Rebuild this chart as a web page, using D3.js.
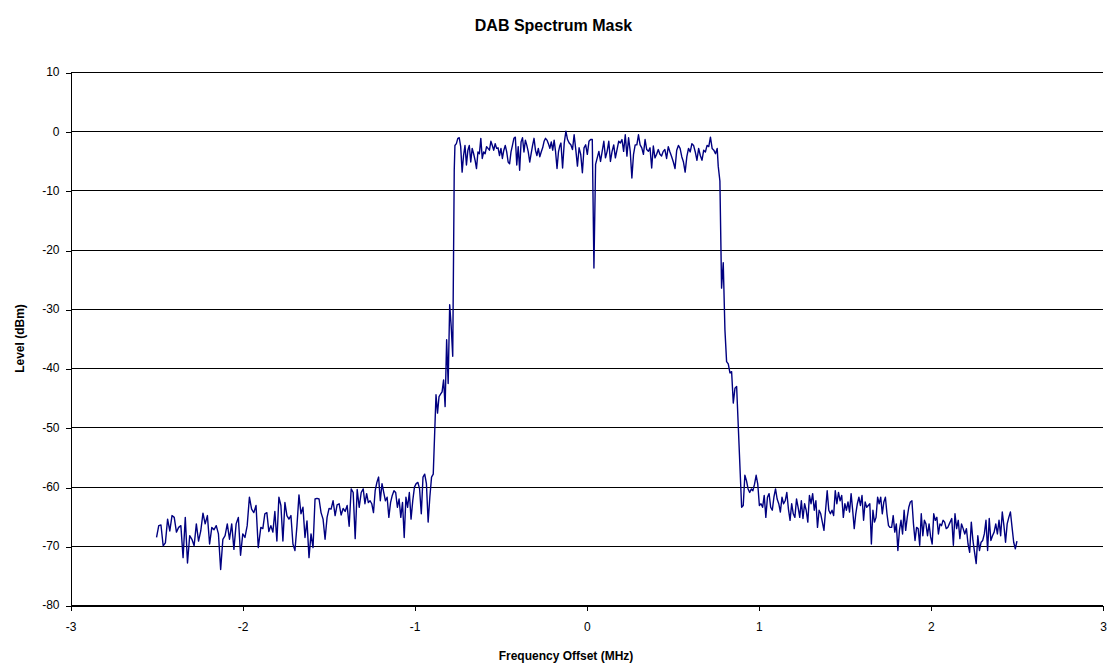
<!DOCTYPE html>
<html>
<head>
<meta charset="utf-8">
<script src="https://cdn.jsdelivr.net/npm/d3@7"></script>
<style>
  body { margin: 0; background: #fff; }
  svg text { font-family: Arial, "Liberation Sans", sans-serif; }
</style>
</head>
<body>
<svg id="chart" width="1107" height="663"></svg>
<script>
// ---- Axis ticks ----
const xTicks = [-3, -2, -1, 0, 1, 2, 3];
const yTicks = [10, 0, -10, -20, -30, -40, -50, -60, -70, -80];

// ---- Measured trace, level in dBm, in sweep order ----
// Each block of levels is spread evenly over its frequency span (MHz).
const spanFloorLeftA = [-2.5, -1.909];
const floorLeftA = [-68.6, -66.6, -66.5, -70.0, -69.5, -65.5, -67.5, -64.9, -65.2, -67.7,
  -66.9, -66.6, -72.0, -65.2, -72.9, -68.3, -68.9, -70.0, -66.3, -69.2, -67.5, -64.5,
  -66.3, -64.9, -69.7, -66.9, -67.3, -66.6, -68.0, -74.0, -68.9, -68.3, -66.3, -68.9,
  -66.3, -70.6, -66.3, -65.2, -71.6, -68.0, -68.6, -66.6, -61.8, -63.8, -64.4, -63.2, -70.3];

const spanFloorLeftB = [-1.894, -1.299];
const floorLeftB = [-66.9, -67.1, -64.6, -64.4, -67.6, -66.6, -67.7, -64.2, -69.2, -61.8,
  -63.2, -69.2, -62.7, -64.9, -65.5, -64.9, -69.7, -70.8, -66.6, -61.4, -64.6, -63.5,
  -68.6, -65.8, -72.0, -68.0, -70.3, -62.1, -62.0, -62.1, -64.4, -65.5, -68.9, -65.2,
  -63.7, -63.8, -62.4, -64.9, -63.1, -62.9, -64.8, -63.7, -64.2, -63.2, -66.7, -60.4,
  -61.0, -68.8, -60.5, -63.5, -61.0, -60.4];

const spanFloorLeftC = [-1.289, -0.892];
const floorLeftC = [-62.9, -61.2, -62.7, -62.4, -62.9, -64.4, -60.7, -59.3, -58.4, -62.4,
  -59.5, -61.0, -62.4, -61.8, -65.2, -62.7, -61.5, -60.7, -61.0, -63.5, -62.1, -65.2,
  -62.7, -68.6, -61.8, -63.5, -61.0, -65.5, -62.4, -60.1, -59.5, -59.3, -60.4, -64.6,
  -58.4, -57.9, -59.5, -66.0, -61.8, -58.4, -57.9];

const spanRisingEdge = [-0.876, -0.770];
const risingEdge = [-44.5, -47.6, -44.8, -44.4, -44.0, -42.0, -46.5, -35.2, -42.6, -29.3,
  -33.0, -38.0, -6.5];

const spanPassbandA = [-0.766, -0.156];
const passbandA = [-2.4, -2.1, -1.2, -1.1, -2.6, -6.9, -4.1, -2.4, -5.7, -3.2,
  -2.4, -5.2, -2.9, -3.8, -4.9, -6.3, -3.5, -3.8, -1.2, -4.6,
  -3.5, -3.8, -2.6, -2.9, -3.2, -1.7, -2.4, -3.2, -2.1, -2.9,
  -2.8, -4.1, -2.9, -4.6, -3.2, -2.4, -3.5, -5.2, -5.5, -3.5,
  -2.4, -1.2, -1.0, -5.7, -2.6, -6.6, -1.8, -1.1, -3.5, -1.5,
  -2.4, -3.5, -5.2, -3.8, -2.4, -1.2, -3.2, -4.1, -2.9, -4.3,
  -3.5, -2.8, -1.7, -1.2, -1.5, -2.1, -2.9, -1.8, -3.2, -1.5,
  -3.5, -6.3, -3.5, -2.4];

const spanPassbandB = [-0.150, 0.454];
const passbandB = [-2.0, -6.2, -2.0, 0.0, -1.4, -2.0, -2.3, -3.1, -0.6, -3.1,
  -5.9, -2.8, -3.9, -7.0, -2.8, -2.3, -3.9, -1.7, -1.4, -1.4,
  -23.1, -5.6, -4.5, -3.4, -5.1, -3.4, -1.7, -4.5, -3.4, -1.7,
  -5.1, -3.4, -2.3, -4.5, -3.1, -1.7, -2.0, -1.4, -3.4, -0.6,
  -4.2, -1.1, -3.4, -7.9, -3.9, -2.3, -2.3, -0.6, -2.3, -2.8,
  -3.9, -1.4, -3.1, -3.4, -2.8, -6.2, -2.5, -4.5, -3.9, -3.1,
  -3.9, -4.2, -3.4, -3.1];

const spanPassbandC = [0.464, 0.758];
const passbandC = [-4.6, -2.6, -3.5, -4.3, -5.2, -6.3, -3.2, -2.4, -2.9, -4.3,
  -5.2, -6.9, -4.3, -2.9, -3.5, -2.1, -2.4, -3.5, -4.9, -2.9,
  -4.1, -4.9, -3.2, -3.5, -2.4, -2.6, -1.0, -2.9, -3.2, -3.8, -2.9];

const spanFallingEdge = [0.764, 0.871];
const fallingEdge = [-5.9, -8.4, -26.5, -22.2, -33.5, -38.9, -39.3, -40.8, -40.6, -45.9,
  -43.4, -43.1];

const spanFloorRightA = [0.900, 1.491];
const floorRightA = [-63.5, -63.2, -58.1, -59.0, -60.4, -61.0, -60.4, -60.7, -59.6, -58.1,
  -59.6, -63.2, -62.9, -63.5, -61.5, -65.2, -61.8, -61.2, -63.5, -64.0, -61.8, -60.4,
  -62.1, -62.9, -64.3, -61.8, -62.9, -62.4, -61.0, -63.8, -65.7, -62.9, -64.6, -65.2,
  -62.1, -63.5, -65.2, -62.4, -65.4, -62.9, -64.0, -66.0, -61.5, -62.9, -61.2, -64.0,
  -62.4, -66.9, -64.0, -64.6, -66.0, -67.4, -64.0, -60.7, -64.0, -64.6, -64.0, -64.9,
  -60.7, -62.9, -61.0, -62.4, -61.5, -65.2];

const spanFloorRightB = [1.500, 2.107];
const floorRightB = [-62.9, -64.0, -62.6, -64.3, -61.2, -64.0, -67.1, -64.6, -62.9, -61.8,
  -63.2, -61.5, -65.7, -62.6, -63.5, -63.2, -62.9, -69.7, -64.0, -66.0, -65.2, -61.8,
  -62.9, -61.8, -64.6, -62.6, -61.8, -64.6, -66.6, -66.9, -66.9, -64.9, -67.7, -66.3,
  -70.8, -67.4, -65.7, -68.0, -64.0, -67.4, -65.2, -63.5, -62.6, -62.4, -66.3, -69.1,
  -66.9, -67.1, -69.9, -64.6, -68.3, -65.7, -66.3, -68.3, -66.3, -68.5, -69.7, -64.6,
  -65.7, -65.2, -68.0, -66.3, -66.6, -65.7, -66.0, -67.1, -66.9, -66.3];

const spanFloorRightC = [2.121, 2.5];
const floorRightC = [-65.4, -69.9, -64.6, -67.1, -65.7, -68.8, -66.3, -67.1, -68.0, -67.1,
  -69.7, -71.1, -66.0, -69.1, -71.1, -73.0, -68.3, -70.8, -69.4, -69.1, -68.0, -65.7,
  -70.8, -65.4, -69.1, -68.3, -67.7, -66.3, -68.0, -65.7, -68.3, -64.3, -66.6, -69.4,
  -66.3, -65.2, -64.3, -66.9, -69.4, -70.5, -69.2];

// ---- Assemble the trace ----
const blocks = [
  [spanFloorLeftA, floorLeftA], [spanFloorLeftB, floorLeftB], [spanFloorLeftC, floorLeftC],
  [spanRisingEdge, risingEdge],
  [spanPassbandA, passbandA], [spanPassbandB, passbandB], [spanPassbandC, passbandC],
  [spanFallingEdge, fallingEdge],
  [spanFloorRightA, floorRightA], [spanFloorRightB, floorRightB], [spanFloorRightC, floorRightC]
];
const trace = blocks.flatMap(([span, levels]) => {
  const freqAt = d3.scaleLinear().domain([0, levels.length - 1]).range(span);
  return levels.map((level, i) => ({ freq: freqAt(i), level }));
});

// ---- Layout ----
const svg = d3.select("#chart");
const plot = { left: 70.5, right: 1103, top: 72, bottom: 605 };

const x = d3.scaleLinear().domain([-3, 3]).range([plot.left, plot.right]);
const y = d3.scaleLinear().domain([-80, 10]).range([plot.bottom, plot.top]);

// Plain hyphen-minus labels
const plainNumber = d => String(d);

// Horizontal gridlines
svg.append("g")
  .selectAll("line")
  .data(yTicks)
  .join("line")
  .attr("x1", plot.left).attr("x2", plot.right)
  .attr("y1", d => Math.round(y(d)) + 0.5).attr("y2", d => Math.round(y(d)) + 0.5)
  .attr("stroke", "#000").attr("stroke-width", 1)
  .attr("shape-rendering", "crispEdges");

// Y axis
const yAxis = svg.append("g")
  .attr("transform", `translate(${plot.left},0)`)
  .call(d3.axisLeft(y).tickValues(yTicks).tickSize(5).tickSizeOuter(0).tickPadding(6)
    .tickFormat(plainNumber));
yAxis.selectAll("line").attr("stroke", "#000").attr("shape-rendering", "crispEdges")
  .attr("transform", d => `translate(0,${Math.round(y(d)) + 0.5 - y(d)})`);
yAxis.select(".domain").attr("stroke", "#000").attr("shape-rendering", "crispEdges");
yAxis.selectAll("text").attr("font-size", 12).attr("fill", "#000")
  .attr("font-family", "Arial, 'Liberation Sans', sans-serif");

// X axis
const xAxis = svg.append("g")
  .attr("transform", `translate(0,${Math.round(plot.bottom) + 0.5})`)
  .call(d3.axisBottom(x).tickValues(xTicks).tickSize(5).tickSizeOuter(0).tickPadding(12)
    .tickFormat(plainNumber));
xAxis.selectAll("line").attr("stroke", "#000").attr("shape-rendering", "crispEdges");
xAxis.select(".domain").attr("stroke", "#000").attr("shape-rendering", "crispEdges");
xAxis.selectAll("text").attr("font-size", 12).attr("fill", "#000")
  .attr("font-family", "Arial, 'Liberation Sans', sans-serif");

// Spectrum trace
const line = d3.line().x(d => x(d.freq)).y(d => y(d.level));
svg.append("path")
  .datum(trace)
  .attr("d", line)
  .attr("fill", "none")
  .attr("stroke", "#000080")
  .attr("stroke-width", 1.4)
  .attr("stroke-linejoin", "round");

// Titles
svg.append("text")
  .attr("x", 553.5).attr("y", 31)
  .attr("text-anchor", "middle")
  .attr("font-size", 16).attr("font-weight", "bold")
  .text("DAB Spectrum Mask");

svg.append("text")
  .attr("transform", `translate(24,${(plot.top + plot.bottom) / 2}) rotate(-90)`)
  .attr("text-anchor", "middle")
  .attr("font-size", 12).attr("font-weight", "bold")
  .text("Level (dBm)");

svg.append("text")
  .attr("x", 566).attr("y", 660)
  .attr("text-anchor", "middle")
  .attr("font-size", 12).attr("font-weight", "bold")
  .text("Frequency Offset (MHz)");
</script>
</body>
</html>
